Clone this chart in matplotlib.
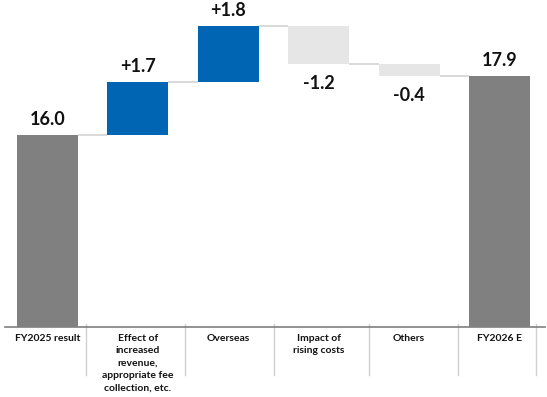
import matplotlib
matplotlib.use("Agg")
import matplotlib.pyplot as plt

# Operating profit bridge, FY2025 result -> FY2026 forecast
categories = [
    "FY2025 result",
    "Effect of\nincreased\nrevenue,\nappropriate fee\ncollection, etc.",
    "Overseas",
    "Impact of\nrising costs",
    "Others",
    "FY2026 E",
]
values = [16.0, 1.7, 1.8, -1.2, -0.4, 17.9]
value_labels = ["16.0", "+1.7", "+1.8", "-1.2", "-0.4", "17.9"]
kinds = ["total", "delta", "delta", "delta", "delta", "total"]

GREY = "#808080"
BLUE = "#0066B3"
LIGHT = "#E6E6E6"
CONNECT = "#D9D9D9"
SEP = "#D0D0D0"

plt.rcParams["font.family"] = ["Lato", "DejaVu Sans"]

W, H = 547, 397
fig = plt.figure(figsize=(W / 100, H / 100), dpi=100)
ax = fig.add_axes([5 / W, 1 - 327 / H, 540 / W, 327 / H])

bar_w = 0.675
running = 0.0
tops = []
for i, (v, kind) in enumerate(zip(values, kinds)):
    if kind == "total":
        bottom, height = 0.0, v
        color = GREY
        running = v
        level_after = v
    else:
        if v >= 0:
            bottom, height = running, v
            color = BLUE
        else:
            bottom, height = running + v, -v
            color = LIGHT
        running += v
        level_after = running
    ax.bar(i, height, bottom=bottom, width=bar_w, color=color, zorder=2)
    tops.append(level_after)

    if v >= 0:
        ax.annotate(value_labels[i], (i, bottom + height), xytext=(0, 5),
                    textcoords="offset points", ha="center", va="bottom",
                    fontsize=13, fontweight="bold", color="#111111")
    else:
        ax.annotate(value_labels[i], (i, bottom), xytext=(0, -8),
                    textcoords="offset points", ha="center", va="top",
                    fontsize=13, fontweight="bold", color="#111111")

# connectors between consecutive bars
for i in range(len(values) - 1):
    ax.plot([i + bar_w / 2, i + 1 - bar_w / 2], [tops[i], tops[i]],
            color=CONNECT, lw=1.4, zorder=1, solid_capstyle="butt")

ax.set_xlim(-0.47, 5.503)
ax.set_ylim(9.81, 20.35)
for s in ["top", "right", "left"]:
    ax.spines[s].set_visible(False)
ax.spines["bottom"].set_color("#7F7F7F")
ax.spines["bottom"].set_linewidth(1.2)
ax.set_yticks([])
ax.set_xticks([])

# category labels under the axis
for i, lab in enumerate(categories):
    ax.annotate(lab, (i, 9.81), xytext=(0, -5), textcoords="offset points",
                ha="center", va="top", fontsize=7.5, fontweight="bold",
                linespacing=1.48, color="#111111", annotation_clip=False)

# category separators
separators = [0.426, 1.52, 2.505, 3.556, 4.54, 5.40]
for sx in separators:
    ax.plot([sx, sx], [9.81 + 3 / 31, 9.81 - 48 / 31], color=SEP, lw=1.0,
            clip_on=False, zorder=0)

fig.savefig("out.png", dpi=100)
